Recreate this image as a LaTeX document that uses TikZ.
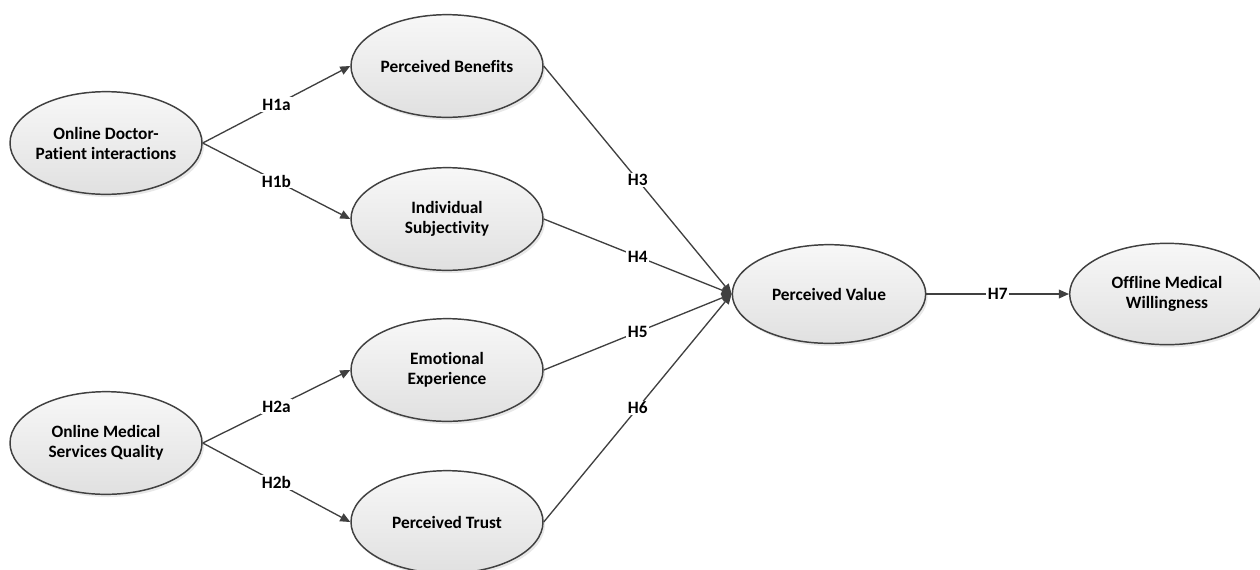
\documentclass[tikz,border=0pt]{standalone}
\usepackage{fontspec}
\setmainfont{Carlito}[Ligatures=NoCommon]
\usetikzlibrary{arrows.meta,shadows,shapes.geometric}
\definecolor{edge}{HTML}{404040}
\tikzset{
  construct/.style={ellipse, draw=edge, line width=1.1pt,
    top color=white!97!black, bottom color=white!88!black,
    drop shadow={opacity=0.18, shadow xshift=1.5pt, shadow yshift=-2pt},
    minimum width=144pt, minimum height=77pt, inner sep=-12pt,
    align=center, font=\bfseries\fontsize{13}{15}\selectfont},
  link/.style={draw=edge, line width=1pt, -{Triangle[length=7.5pt,width=6.5pt]}},
  hyp/.style={fill=white, inner sep=1pt, font=\bfseries\fontsize{13}{14}\selectfont, text=black}
}
\begin{document}
\begin{tikzpicture}[x=0.75pt,y=-0.75pt]
\useasboundingbox (0,0) rectangle (1260,569);
\node[construct] (odp) at (106,143) {Online Doctor-\\Patient interactions};
\node[construct] (omsq) at (106,443) {Online Medical\\Services Quality};
\node[construct] (pb) at (447,66) {Perceived Benefits};
\node[construct] (is) at (447,219) {Individual\\Subjectivity};
\node[construct] (ee) at (447,370) {Emotional\\Experience};
\node[construct] (pt) at (447,522) {Perceived Trust};
\node[construct, minimum width=145pt, minimum height=74pt] (pv) at (829,294) {Perceived Value};
\node[construct, minimum width=146pt, minimum height=76pt] (omw) at (1167,294) {Offline Medical\\Willingness};
\draw[link] (odp.east) -- node[hyp]{H1a} (pb.west);
\draw[link] (odp.east) -- node[hyp]{H1b} (is.west);
\draw[link] (omsq.east) -- node[hyp]{H2a} (ee.west);
\draw[link] (omsq.east) -- node[hyp]{H2b} (pt.west);
\draw[link] (pb.east) -- node[hyp]{H3} (pv.west);
\draw[link] (is.east) -- node[hyp]{H4} (pv.west);
\draw[link] (ee.east) -- node[hyp]{H5} (pv.west);
\draw[link] (pt.east) -- node[hyp]{H6} (pv.west);
\draw[link] (pv.east) -- node[hyp]{H7} (omw.west);
\end{tikzpicture}
\end{document}
